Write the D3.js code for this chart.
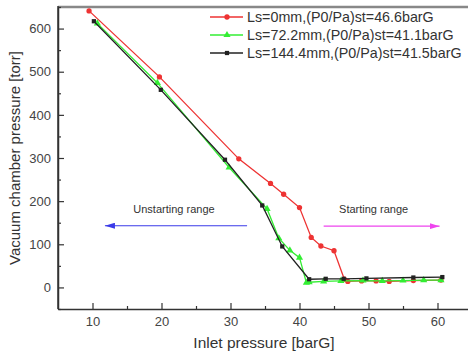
<!DOCTYPE html>
<html><head><meta charset="utf-8">
<script src="https://cdn.jsdelivr.net/npm/d3@7"></script>
<style>body{margin:0;background:#fff}svg{display:block}text{font-family:"Liberation Sans",Arial,sans-serif}</style>
</head><body><svg id="c" width="468" height="356"></svg>
<script>
const seriesNames = ["Ls=0mm,(P0/Pa)st=46.6barG","Ls=72.2mm,(P0/Pa)st=41.1barG","Ls=144.4mm,(P0/Pa)st=41.5barG"];
const redX = [9.5,19.7,31.2,35.8,37.7,40.0,41.7,43.1,45.0,46.5,47.0,49.0,51.1,53.0,56.5,60.5];
const redY = [641,488,298,241,216,185,116,96,85,19,14,15,15,14,16,17];
const greenX = [10.7,19.4,29.8,35.3,37.0,38.6,40.0,41.0,41.4,43.5,46.0,49.2,52.0,55.0,58.0,60.5];
const greenY = [612,474,278,182,114,86,69,11,12,14,15,16,15,16,17,17];
const blackX = [10.2,19.9,29.2,34.6,37.5,41.4,43.8,46.4,49.7,56.5,60.7];
const blackY = [617,458,296,190,95,19,20,20,21,23,24];
const xTicks = [10,20,30,40,50,60];
const yTicks = [0,100,200,300,400,500,600];
const arrows = [{x1:32.4,x2:11.8,y:143,label:"Unstarting range",color:"#3a3ae8"},{x1:43.5,x2:60.3,y:142,label:"Starting range",color:"#ee44ee"}];

const svg = d3.select("#c");
const x = d3.scaleLinear().domain([5,65]).range([58,472]);
const y = d3.scaleLinear().domain([-50,650]).range([309,7]);

svg.append("line").attr("x1",58).attr("x2",468).attr("y1",7).attr("y2",7).attr("stroke","#888").attr("stroke-width",2.5);

const xAxis = d3.axisBottom(x).tickValues(xTicks).tickSizeInner(-6).tickSizeOuter(0).tickPadding(8);
const gx = svg.append("g").attr("transform","translate(0,309)").call(xAxis);
const xMinor = d3.axisBottom(x).tickValues(d3.range(15,65,10)).tickSize(-3).tickFormat("");
svg.append("g").attr("transform","translate(0,309)").call(xMinor).select(".domain").remove();
const yAxis = d3.axisLeft(y).tickValues(yTicks).tickSizeInner(-6).tickSizeOuter(0).tickPadding(7);
const gy = svg.append("g").attr("transform","translate(58,0)").call(yAxis);
const yMinor = d3.axisLeft(y).tickValues(d3.range(-50,651,100)).tickSize(-3).tickFormat("");
svg.append("g").attr("transform","translate(58,0)").call(yMinor).select(".domain").remove();
svg.selectAll(".domain").attr("stroke","#333").attr("stroke-width",1.5);
svg.selectAll(".tick line").attr("stroke","#333").attr("stroke-width",1.2);
gx.selectAll("text").attr("font-size",13).attr("fill","#444");
gy.selectAll("text").attr("font-size",13).attr("fill","#444");
svg.append("line").attr("x1",58).attr("x2",58).attr("y1",6).attr("y2",309).attr("stroke","#333").attr("stroke-width",1.5);

svg.append("text").attr("x",264).attr("y",348).attr("text-anchor","middle").attr("font-size",15.5).attr("fill","#333").text("Inlet pressure [barG]");
svg.append("text").attr("transform","translate(20,158) rotate(-90)").attr("text-anchor","middle").attr("font-size",15).attr("fill","#333").text("Vacuum chamber pressure [torr]");

const defs = svg.append("defs");
arrows.forEach((a,i)=>{
  defs.append("marker").attr("id","ah"+i).attr("viewBox","0 0 10 6").attr("refX",10).attr("refY",3)
    .attr("markerWidth",10).attr("markerHeight",6).attr("markerUnits","userSpaceOnUse").attr("orient","auto")
    .append("path").attr("d","M0,0L10,3L0,6Z").attr("fill",a.color);
  svg.append("line").attr("x1",x(a.x1)).attr("x2",x(a.x2)).attr("y1",y(a.y)).attr("y2",y(a.y))
    .attr("stroke",a.color).attr("stroke-width",1.2).attr("marker-end","url(#ah"+i+")");
  svg.append("text").attr("x",(x(a.x1)+x(a.x2))/2+(i===0?-2:-8)).attr("y",y(a.y)-13).attr("text-anchor","middle")
    .attr("font-size",11).attr("fill","#333").text(a.label);
});

const series = [
  {xs:redX,ys:redY,color:"#ee3333",shape:d3.symbolCircle,size:22},
  {xs:greenX,ys:greenY,color:"#33ee33",shape:d3.symbolTriangle,size:22},
  {xs:blackX,ys:blackY,color:"#222",shape:d3.symbolSquare,size:18}
];
const line = d3.line().x(d=>x(d[0])).y(d=>y(d[1]));
series.forEach(s=>{
  const pts = s.xs.map((v,i)=>[v,s.ys[i]]);
  svg.append("path").attr("d",line(pts)).attr("fill","none").attr("stroke",s.color).attr("stroke-width",1.3);
  svg.selectAll(null).data(pts).enter().append("path")
    .attr("d",d3.symbol().type(s.shape).size(s.size))
    .attr("transform",d=>`translate(${x(d[0])},${y(d[1])})`).attr("fill",s.color);
});

series.forEach((s,i)=>{
  const ly = 17 + i*18;
  svg.append("line").attr("x1",210).attr("x2",243).attr("y1",ly).attr("y2",ly).attr("stroke",s.color).attr("stroke-width",1.3);
  svg.append("path").attr("d",d3.symbol().type(s.shape).size(s.size)).attr("transform",`translate(227,${ly})`).attr("fill",s.color);
  svg.append("text").attr("x",247).attr("y",ly+5).attr("font-size",14.3).attr("fill","#333").text(seriesNames[i]);
});
</script></body></html>
